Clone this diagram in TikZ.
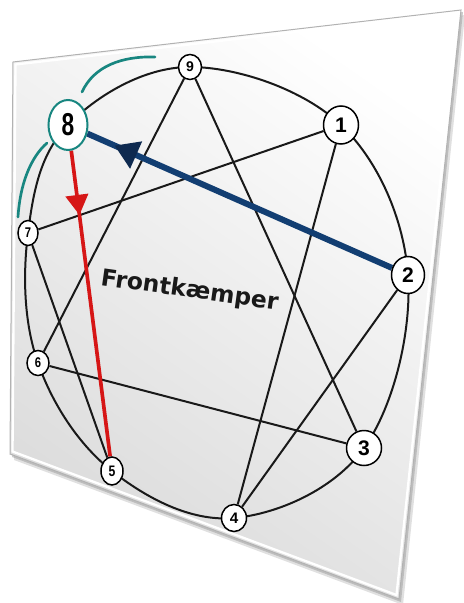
\documentclass[tikz,border=0pt]{standalone}
\usepackage{fontspec}
\newfontfamily\numfont{Liberation Sans}
\newfontfamily\wordfont{DejaVu Sans}
\usetikzlibrary{arrows.meta,decorations.markings,shapes.geometric,backgrounds}
\definecolor{wingteal}{RGB}{24,134,128}
\definecolor{dirblue}{RGB}{18,62,114}
\definecolor{dirbluetip}{RGB}{14,42,80}
\definecolor{dirred}{RGB}{214,22,22}
\tikzset{
  pt/.style={ellipse,draw=black,line width=0.45mm,fill=white,inner sep=0pt},
  digit/.style={font=\numfont\bfseries\fontsize{#1pt}{#1pt}\selectfont},
  chord/.style={line width=0.6mm,black!90},
  wing/.style={line width=0.8mm,wingteal,line cap=round},
  midtip/.style n args={4}{postaction={decorate},decoration={markings,
    mark=at position #1 with {\arrow{Triangle[length=#3,width=#4,line width=0pt,color=#2]}}}},
}
\begin{document}
\begin{tikzpicture}[x=0.3mm,y=-0.3mm]
\useasboundingbox (0,0) rectangle (463,603);

\node[pt,minimum width=6.9mm,minimum height=7.5mm,digit=12] (e9) at (190,67) {9};
\node[pt,minimum width=10.5mm,minimum height=11.4mm,digit=18] (e1) at (341,125) {1};
\node[pt,minimum width=9.9mm,minimum height=11.1mm,digit=18] (e2) at (408,275) {2};
\node[pt,minimum width=10.5mm,minimum height=10.5mm,digit=18] (e3) at (364,448) {3};
\node[pt,minimum width=7.5mm,minimum height=8.1mm,digit=13] (e4) at (234,518) {4};
\node[pt,minimum width=6.6mm,minimum height=8.4mm,digit=13] (e5) at (112,471) {\scalebox{0.8}[1]{5}};
\node[pt,minimum width=6.6mm,minimum height=7.5mm,digit=12] (e6) at (38,363) {\scalebox{0.8}[1]{6}};
\node[pt,minimum width=6mm,minimum height=7.5mm,digit=12] (e7) at (28,233) {\scalebox{0.8}[1]{7}};
\node[pt,minimum width=11.7mm,minimum height=15mm,draw=wingteal,line width=0.6mm,
  digit=27] (e8) at (68,125) {\scalebox{0.72}[1]{8}};

\begin{scope}[on background layer]
\fill[black!40,opacity=0.3] (17,67) -- (465,15) -- (403,605) -- (14,460) -- cycle;
\fill[black!40,opacity=0.5] (15,64) -- (463,12) -- (401,602) -- (12,457) -- cycle;
\shade[top color=white,bottom color=black!14,shading angle=-35,draw=black!30,line width=0.3mm]
  (13,62) -- (461,10) -- (399,599) -- (10,454) -- cycle;
\draw[white,line width=0.7mm] (15.5,64.5) -- (458,13.5) -- (396.5,595) -- (12.5,451.5) -- cycle;
\draw[chord] plot[smooth cycle,tension=0.62] coordinates {(e9.center) (e1.center) (e2.center) (e3.center)
  (e4.center) (e5.center) (e6.center) (e7.center) (e8.center)};
\draw[chord] (e1) -- (e4);
\draw[chord] (e4) -- (e2);
\draw[chord] (e5) -- (e7);
\draw[chord] (e7) -- (e1);
\draw[chord] (e9) -- (e3);
\draw[chord] (e3) -- (e6);
\draw[chord] (e6) -- (e9);
\draw[line width=1.8mm,dirblue,midtip={0.91}{dirbluetip}{7mm}{9mm}] (e2) -- (e8);
\draw[line width=1.1mm,dirred,midtip={0.21}{dirred}{6mm}{7mm}] (e8) -- (e5);
\end{scope}

\draw[wing] (82,92) .. controls (94,66) and (122,56) .. (155,57);
\draw[wing] (47,143) .. controls (30,158) and (20,185) .. (18,217);

\node[inner sep=0pt,anchor=base west,rotate=-8,text=black!90,
  font=\wordfont\bfseries\fontsize{20pt}{20pt}\selectfont] (lbl) at (100,285) {Frontkæmper};
\end{tikzpicture}
\end{document}
